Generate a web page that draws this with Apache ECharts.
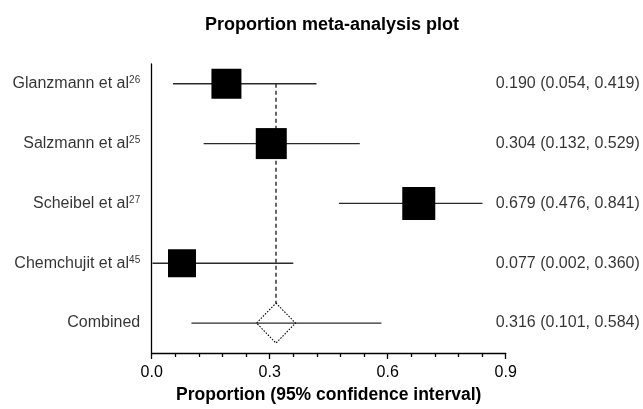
<!DOCTYPE html>
<html>
<head>
<meta charset="utf-8">
<script src="https://cdn.jsdelivr.net/npm/echarts@6/dist/echarts.min.js"></script>
<style>html,body{margin:0;padding:0;background:#fff}#c{width:643px;height:409px}</style>
</head>
<body>
<div id="c"></div>
<script>
var studies = ['Glanzmann et al', 'Salzmann et al', 'Scheibel et al', 'Chemchujit et al'];
var refs = ['26', '25', '27', '45'];
var estimates = [0.190, 0.304, 0.679, 0.077];
var lower = [0.054, 0.132, 0.476, 0.002];
var upper = [0.419, 0.529, 0.841, 0.360];
var weights = [30, 31, 33, 28];
var combinedLabel = 'Combined';
var combined = {est: 0.316, lo: 0.101, hi: 0.584};
var xTicks = [0.0, 0.3, 0.6, 0.9];

var n = studies.length;
// row positions: first study on top, combined at bottom (row 1)
function rowOf(i) { return n + 1 - i; }

var ciData = [];
var sqData = [];
var leftLab = [];
var rightLab = [];
for (var i = 0; i < n; i++) {
  ciData.push([lower[i], upper[i], rowOf(i)]);
  sqData.push({value: [estimates[i], rowOf(i)], symbolSize: weights[i]});
  leftLab.push({value: [0, rowOf(i)], name: '{n|' + studies[i] + '}{s|' + refs[i] + '}'});
  rightLab.push({value: [0.9, rowOf(i)], name: estimates[i].toFixed(3) + ' (' + lower[i].toFixed(3) + ', ' + upper[i].toFixed(3) + ')'});
}
ciData.push([combined.lo, combined.hi, 1]);
leftLab.push({value: [0, 1], name: '{n|' + combinedLabel + '}'});
rightLab.push({value: [0.9, 1], name: combined.est.toFixed(3) + ' (' + combined.lo.toFixed(3) + ', ' + combined.hi.toFixed(3) + ')'});

var chart = echarts.init(document.getElementById('c'));
var FONT = 'Liberation Sans, Arial, sans-serif';
chart.setOption({
  animation: false,
  backgroundColor: '#fff',
  title: {
    text: 'Proportion meta-analysis plot',
    left: 327, top: 11, textAlign: 'center',
    textStyle: {fontFamily: FONT, fontSize: 18, fontWeight: 'bold', color: '#000'}
  },
  grid: {left: 151.7, right: 137.3, top: 64, bottom: 56, containLabel: false},
  xAxis: {
    type: 'value', min: 0, max: 0.9, interval: 0.3,
    axisLine: {show: true, lineStyle: {color: '#000', width: 1.3}},
    axisTick: {show: true, length: 6, lineStyle: {color: '#000', width: 1.3}},
    minorTick: {show: true, splitNumber: 5, length: 4, lineStyle: {color: '#000', width: 1.3}},
    splitLine: {show: false},
    axisLabel: {fontFamily: FONT, fontSize: 16, color: '#000', margin: 12,
      formatter: function (v) { return v.toFixed(1); }},
    name: 'Proportion (95% confidence interval)',
    nameLocation: 'middle', nameGap: 33,
    nameTextStyle: {fontFamily: FONT, fontSize: 17.5, fontWeight: 'bold', color: '#000'}
  },
  yAxis: {
    type: 'value', min: 0.5, max: 5.33,
    axisLine: {show: true, lineStyle: {color: '#000', width: 1.3}},
    axisTick: {show: false}, axisLabel: {show: false}, splitLine: {show: false}
  },
  series: [
    {
      type: 'line', data: [[combined.est, rowOf(0)], [combined.est, 1.335]],
      symbol: 'none', z: 1,
      lineStyle: {color: '#000', width: 1.2, type: [4, 3]}
    },
    {
      type: 'custom', z: 2,
      data: ciData,
      renderItem: function (params, api) {
        var p1 = api.coord([api.value(0), api.value(2)]);
        var p2 = api.coord([api.value(1), api.value(2)]);
        return {type: 'line', shape: {x1: p1[0], y1: p1[1], x2: p2[0], y2: p2[1]},
          style: {stroke: '#2a2a2a', lineWidth: 1.4}};
      }
    },
    {
      type: 'scatter', z: 3, symbol: 'rect', data: sqData,
      itemStyle: {color: '#000', opacity: 1}
    },
    {
      type: 'scatter', z: 3, symbol: 'diamond', symbolSize: [39, 40],
      data: [[combined.est, 1]],
      itemStyle: {color: 'rgba(0,0,0,0)', borderColor: '#000', borderWidth: 1.1, borderType: [1.5, 1.5], opacity: 1}
    },
    {
      type: 'scatter', z: 4, symbolSize: 0, data: leftLab, silent: true,
      label: {show: true, position: 'left', distance: 11.5, formatter: function (p) { return p.name; },
        rich: {
          n: {fontFamily: FONT, fontSize: 16, color: '#000'},
          s: {fontFamily: FONT, fontSize: 10, color: '#000', verticalAlign: 'top', padding: [0, 0, 0, 0]}
        }}
    },
    {
      type: 'scatter', z: 4, symbolSize: 0, data: rightLab, silent: true,
      label: {show: true, position: 'right', distance: 0, offset: [-10, 0],
        fontFamily: FONT, fontSize: 16, color: '#000', formatter: function (p) { return p.name; }}
    }
  ]
});
</script>
</body>
</html>
